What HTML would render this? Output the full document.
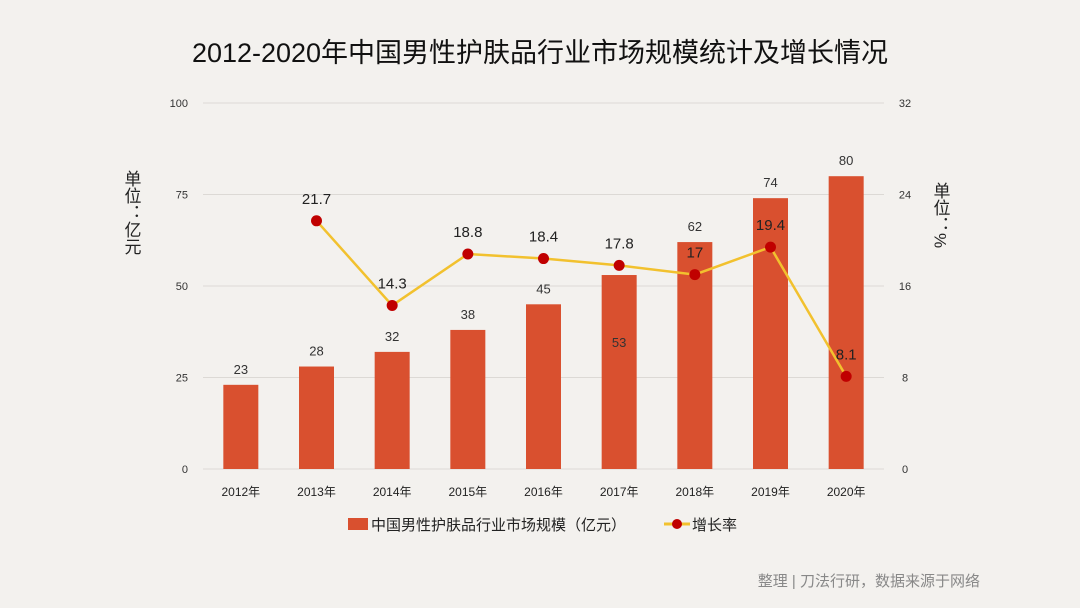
<!DOCTYPE html>
<html><head><meta charset="utf-8">
<style>
html,body{margin:0;padding:0;background:#f3f1ee;}
svg{display:block;font-family:"Liberation Sans","Noto Sans CJK SC",sans-serif;}
</style></head>
<body>
<svg id="chart" width="1080" height="608" viewBox="0 0 1080 608">
<rect width="1080" height="608" fill="#f3f1ee"/>
<text x="540" y="62" text-anchor="middle" font-size="27" fill="#111">2012-2020年中国男性护肤品行业市场规模统计及增长情况</text>
<g id="grid"></g><g id="bars"></g><g id="line"></g><g id="labels"></g>
<text transform="translate(131,170)" font-size="17" fill="#222" style="writing-mode:tb">单位：亿元</text>
<text transform="translate(940,182)" font-size="17" fill="#222" style="writing-mode:tb">单位：%</text>
<g>
<rect x="348" y="518" width="20" height="12" fill="#d9502f"/>
<text x="371" y="530" font-size="15" fill="#222">中国男性护肤品行业市场规模（亿元）</text>
<line x1="664" y1="524" x2="690" y2="524" stroke="#f2c12e" stroke-width="3"/>
<circle cx="677" cy="524" r="5" fill="#c00000"/>
<text x="692" y="530" font-size="15" fill="#222">增长率</text>
</g>
<text x="980" y="586" text-anchor="end" font-size="15" fill="#888">整理 | 刀法行研，数据来源于网络</text>
</svg>
<script>
const categories=["2012年","2013年","2014年","2015年","2016年","2017年","2018年","2019年","2020年"];
const marketSize=[23,28,32,38,45,53,62,74,80];
const growthRate=[null,21.7,14.3,18.8,18.4,17.8,17,19.4,8.1];
const leftTicks=[0,25,50,75,100];
const rightTicks=[0,8,16,24,32];
const NS="http://www.w3.org/2000/svg";
const X0=203,X1=884,Y0=469,Y1=103;
const step=(X1-X0)/categories.length;
const xS=i=>X0+step*(i+0.5);
const yL=v=>Y0-v/100*(Y0-Y1);
const yR=v=>Y0-v/32*(Y0-Y1);
function mk(tag,attrs,parent,txt){const e=document.createElementNS(NS,tag);for(const k in attrs)e.setAttribute(k,attrs[k]);if(txt!==undefined)e.textContent=txt;document.getElementById(parent).appendChild(e);return e;}
leftTicks.forEach((t,i)=>{
 const y=yL(t);
 const g=mk('line',{x1:X0,x2:X1,y1:y,y2:y,stroke:'#dcd9d5','stroke-width':1},'grid');
 
 
 const a=mk('text',{x:188,y:y+4,'text-anchor':'end','font-size':11,fill:'#333'},'grid',t);
 
 
 const b=mk('text',{x:905,y:y+4,'text-anchor':'middle','font-size':11,fill:'#333'},'grid',rightTicks[i]);
 
 
});
const bw=35;
categories.forEach((c,i)=>{
 const x=xS(i),v=marketSize[i];
 const r=mk('rect',{x:x-bw/2,y:yL(v),width:bw,height:Y0-yL(v),fill:'#d9502f'},'bars');
 
 
 const ly=(i===5)?yL(v)+72:yL(v)-11;
 const t=mk('text',{x:x,y:ly,'text-anchor':'middle','font-size':13,fill:'#333'},'labels',v);
 
 
 const xl=mk('text',{x:x,y:496,'text-anchor':'middle','font-size':12,fill:'#222'},'labels',c);
 
 
});
let pts=[];
growthRate.forEach((v,i)=>{if(v!==null)pts.push([xS(i),yR(v),v]);});
const pl=mk('polyline',{points:pts.map(p=>p[0]+','+p[1]).join(' '),fill:'none',stroke:'#f2c12e','stroke-width':2.5},'line');


pts.forEach(p=>{
 const c=mk('circle',{cx:p[0],cy:p[1],r:5.5,fill:'#c00000'},'line');
 
 
 const t=mk('text',{x:p[0],y:p[1]-17,'text-anchor':'middle','font-size':15,fill:'#222'},'labels',p[2]);
 
 
});
</script>
</body></html>
